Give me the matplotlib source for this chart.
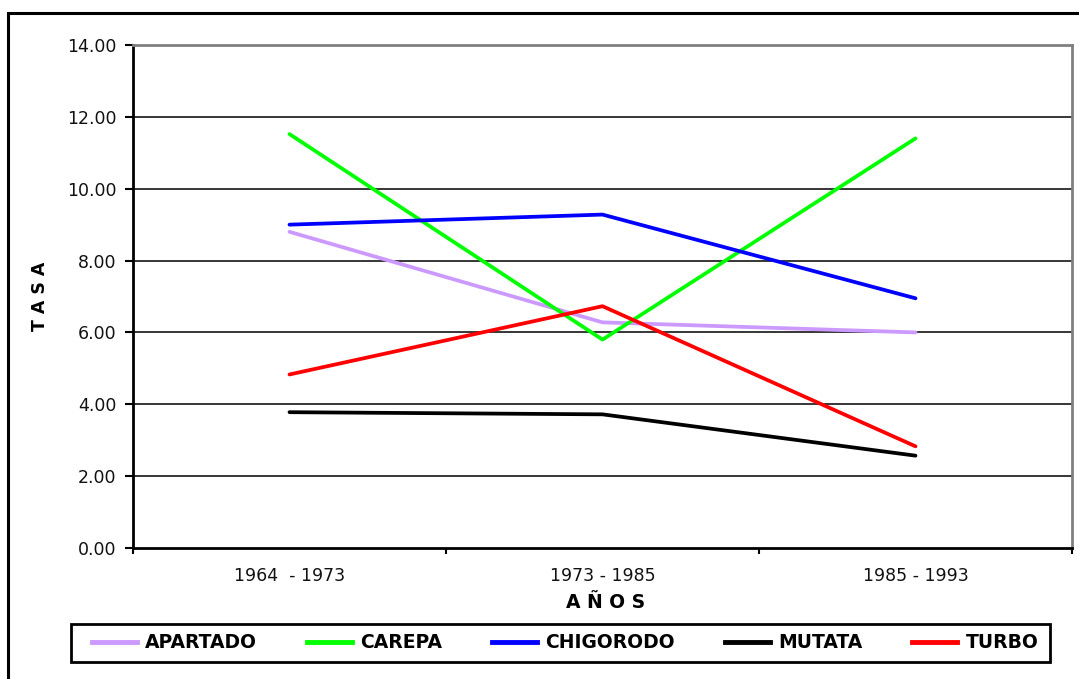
import matplotlib
matplotlib.use("Agg")
import matplotlib.pyplot as plt
from matplotlib.patches import Rectangle
from matplotlib.lines import Line2D

periods = ["1964  - 1973", "1973 - 1985", "1985 - 1993"]
series_names = ["APARTADO", "CAREPA", "CHIGORODO", "MUTATA", "TURBO"]
apartado = [8.80, 6.28, 6.00]
carepa = [11.52, 5.80, 11.40]
chigorodo = [9.00, 9.28, 6.95]
mutata = [3.78, 3.72, 2.57]
turbo = [4.83, 6.73, 2.83]
colors = ["#CC99FF", "#00FF00", "#0000FF", "#000000", "#FF0000"]
yticks = [0, 2, 4, 6, 8, 10, 12, 14]

W, H = 1079, 679
fig = plt.figure(figsize=(W / 100, H / 100), dpi=100)
plt.rcParams['font.family'] = ['DejaVu Sans']

# outer chart frame
fig.patches.append(Rectangle((8 / W, -0.1), 1.2, 1 - 13 / H + 0.1, transform=fig.transFigure,
                             fill=False, edgecolor="black", linewidth=2.2, zorder=0))

ax = fig.add_axes([133 / W, (H - 548) / H, 939 / W, 503 / H])
x = [0, 1, 2]
data = [apartado, carepa, chigorodo, mutata, turbo]
for name, vals, c in zip(series_names, data, colors):
    ax.plot(x, vals, color=c, linewidth=2.7, solid_capstyle="round", label=name, zorder=3)

ax.set_xlim(-0.5, 2.5)
ax.set_ylim(0, 14)
ax.set_yticks(yticks)
ax.set_yticklabels([f"{v:.2f}" for v in yticks], fontsize=12.5, color="#111111")
ax.set_xticks(x)
ax.set_xticklabels(periods, fontsize=12.5, color="#111111")
ax.tick_params(axis="x", length=0, pad=14)
ax.set_xticks([-0.5, 0.5, 1.5, 2.5], minor=True)
ax.tick_params(axis="x", which="minor", length=4, width=1.5, direction="out")
ax.tick_params(axis="y", length=6, width=1.5, direction="out", pad=6)
for yv in yticks[1:-1]:
    ax.axhline(yv, color="black", linewidth=1.1, zorder=1)

for s in ["left", "bottom"]:
    ax.spines[s].set_color("black")
    ax.spines[s].set_linewidth(2)
for s in ["top", "right"]:
    ax.spines[s].set_color("#808080")
    ax.spines[s].set_linewidth(2)

fig.text(40 / W, 1 - 296 / H, "T A S A", rotation=90, ha="center", va="center",
         fontsize=12.5, fontweight="bold")
fig.text(606 / W, 1 - 603 / H, "A Ñ O S", ha="center", va="center",
         fontsize=13.5, fontweight="bold")

handles = [Line2D([], [], color=c, linewidth=3.5) for c in colors]
leg = fig.legend(handles, series_names, loc="center", ncol=5, mode="expand",
                 bbox_to_anchor=(86 / W, (H - 662) / H, 958 / W, 38 / H),
                 prop={"weight": "bold", "size": 13.5}, frameon=False,
                 handlelength=2.4, handletextpad=0.45,
                 borderaxespad=0, borderpad=0.3, columnspacing=1.0)
fig.patches.append(Rectangle((71 / W, (H - 662) / H), 979 / W, 38 / H,
                             transform=fig.transFigure, fill=False,
                             edgecolor="black", linewidth=2, zorder=0))

fig.savefig("out.png", dpi=100, facecolor="white")
